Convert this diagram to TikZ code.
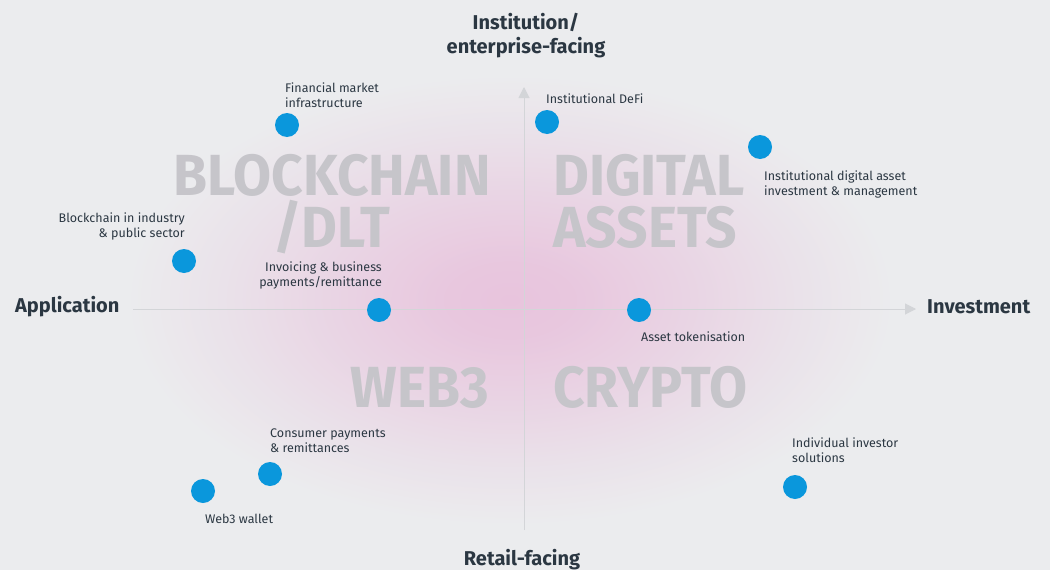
\documentclass[tikz,border=0pt]{standalone}
\usepackage{fontspec}
\setmainfont{Fira Sans}
\newfontfamily\quadfont[FakeStretch=0.95]{Fira Sans}
\usetikzlibrary{arrows.meta}
\definecolor{bg}{HTML}{EBECEE}
\definecolor{glowc}{HTML}{E8C4DD}
\definecolor{axisc}{HTML}{D3D5D8}
\definecolor{quadc}{HTML}{C6C5CA}
\definecolor{darkc}{HTML}{2B3742}
\definecolor{dotc}{HTML}{0A97DC}
\pgfdeclareradialshading{glow}{\pgfpoint{0bp}{0bp}}{color(0bp)=(glowc);color(4bp)=(glowc!92!bg);color(11bp)=(glowc!60!bg);color(18bp)=(glowc!25!bg);color(24bp)=(bg);color(50bp)=(bg)}
\tikzset{
  axisline/.style={draw=axisc, line width=1pt},
  axislabel/.style={text=darkc, font=\fontsize{20}{24}\selectfont\bfseries, inner sep=0pt},
  quadlabel/.style={text=quadc, font=\quadfont\fontsize{58}{52}\selectfont\bfseries, inner sep=0pt},
  dot/.style={circle, fill=dotc, minimum size=24pt, inner sep=0pt},
  small/.style={text=darkc, font=\fontsize{12.5}{15}\selectfont, inner sep=0pt}
}
\begin{document}
\begin{tikzpicture}[x=1pt,y=-1pt]
\fill[bg] (0,0) rectangle (1050,570);
\useasboundingbox (0,0) rectangle (1050,570);
\shade[shading=glow] (510,300) ellipse (400 and 235);

% axes
\coordinate (L) at (133,309);
\coordinate (R) at (916,309);
\coordinate (B) at (524,530);
\coordinate (T) at (524,87);
\draw[axisline, -{Triangle[length=11pt,width=11pt]}] (L) -- (R);
\draw[axisline, -{Triangle[length=11pt,width=11pt]}] (B) -- (T);

% axis labels
\node[axislabel, align=center, anchor=north] (top) at (526,13) {Institution/\\enterprise-facing};
\node[axislabel, anchor=west] (app) at (15,307) {Application};
\node[axislabel, anchor=west] (inv) at (927,307) {Investment};
\node[axislabel, anchor=north] (ret) at (522,549) {Retail-facing};

% quadrant labels
\node[quadlabel, anchor=base] (q1a) at (332,195) {BLOCKCHAIN};
\node[quadlabel, anchor=base] (q1b) at (332,247) {/DLT};
\node[quadlabel, anchor=base west] (q2a) at (553,195) {DIGITAL};
\node[quadlabel, anchor=base west] (q2b) at (553,247) {ASSETS};
\node[quadlabel, anchor=base east] (q3) at (489,407) {WEB3};
\node[quadlabel, anchor=base west] (q4) at (553,407) {CRYPTO};

% dots
\node[dot] (d1) at (287,125) {};
\node[dot] (d2) at (547,122) {};
\node[dot] (d3) at (760,147) {};
\node[dot] (d4) at (184,261) {};
\node[dot] (d5) at (379,310) {};
\node[dot] (d6) at (639,310) {};
\node[dot] (d7) at (270,474) {};
\node[dot] (d8) at (203,491) {};
\node[dot] (d9) at (795,487) {};

% dot labels
\node[small, align=left, anchor=north west] (t1) at (285,83) {Financial market\\infrastructure};
\node[small, anchor=north west] (t2) at (546,94) {Institutional DeFi};
\node[small, align=left, anchor=north west] (t3) at (764,171) {Institutional digital asset\\investment \& management};
\node[small, align=right, anchor=north east] (t4) at (185,213) {Blockchain in industry\\\& public sector};
\node[small, align=right, anchor=north east] (t5) at (382,262) {Invoicing \& business\\payments/remittance};
\node[small, anchor=north west] (t6) at (641,332) {Asset tokenisation};
\node[small, align=left, anchor=north west] (t7) at (270,429) {Consumer payments\\\& remittances};
\node[small, anchor=north west] (t8) at (205,514) {Web3 wallet};
\node[small, align=left, anchor=north west] (t9) at (792,438) {Individual investor\\solutions};
\end{tikzpicture}
\end{document}
